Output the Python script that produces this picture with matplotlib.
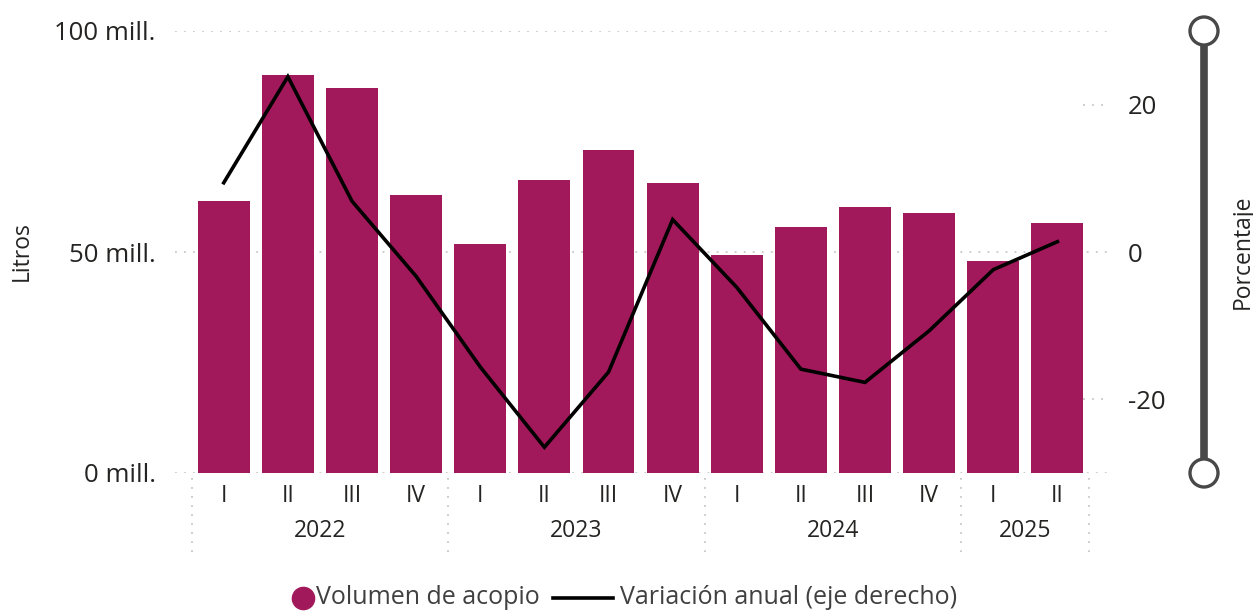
import numpy as np
import matplotlib
matplotlib.use("Agg")
import matplotlib.pyplot as plt
import matplotlib.transforms as mtransforms
from matplotlib.lines import Line2D
from matplotlib.patches import Circle

plt.rcParams['font.family'] = ['Open Sans', 'DejaVu Sans']

# data (millions of litres, annual % change)
quarters = ["I", "II", "III", "IV", "I", "II", "III", "IV", "I", "II", "III", "IV", "I", "II"]
years = ["2022", "2023", "2024", "2025"]
year_sizes = [4, 4, 4, 2]
volumen = [61.5, 90.0, 87.1, 62.9, 51.8, 66.3, 73.1, 65.6, 49.3, 55.7, 60.2, 58.8, 48.0, 56.6]
variacion = [9.4, 23.8, 6.9, -3.3, -15.6, -26.5, -16.3, 4.4, -4.8, -15.9, -17.7, -10.7, -2.4, 1.4]

W, H = 1253, 612
bar_color = "#A2195B"
grid_color = "#C8C8C8"
dots = (0, (1, 4))
txt = "#252423"

fig = plt.figure(figsize=(W / 100, H / 100), dpi=100)
ax = fig.add_axes([175 / W, (H - 473) / H, (1110 - 175) / W, (473 - 31) / H])
ax2 = ax.twinx()

x = np.arange(len(volumen))
ax.bar(x, volumen, width=0.81, color=bar_color, zorder=2)
ax2.plot(x, variacion, color="black", lw=2.6, solid_joinstyle="miter", zorder=3)

ax.set_xlim(-0.76, 13.82)
ax.set_ylim(0, 100)
ax2.set_ylim(-30, 30)

for s in list(ax.spines.values()) + list(ax2.spines.values()):
    s.set_visible(False)

ax.set_yticks([0, 50, 100])
ax.set_yticklabels(["0 mill.", "50 mill.", "100 mill."])
ax.tick_params(axis="y", length=0, pad=14, labelsize=18.5, labelcolor=txt)
for yv in [0, 50, 100]:
    ax.axhline(yv, color=grid_color, lw=1.3, ls=dots, zorder=0)

ax2.set_yticks([-20, 0, 20])
ax2.set_yticklabels(["-20", "0", "20"])
ax2.tick_params(axis="y", length=0, pad=13, labelsize=18.5, labelcolor=txt)
for yv in [-20, 20]:
    ax2.plot([13.4, 13.82], [yv, yv], color=grid_color, lw=1.3, ls=dots, zorder=0)

ax.set_xticks(x)
ax.set_xticklabels(quarters)
ax.tick_params(axis="x", length=0, pad=8, labelsize=16.5, labelcolor=txt)

# year labels and group separators under the axis
trans = mtransforms.blended_transform_factory(ax.transData, fig.transFigure)
start = 0
bounds = [-0.5]
for yr, n in zip(years, year_sizes):
    ax.text(start + (n - 1) / 2, 1 - 531 / H, yr, transform=trans, ha="center", va="center",
            fontsize=16.5, color=txt)
    start += n
    bounds.append(start - 0.5)
for b in bounds:
    ax.plot([b, b], [1 - 478 / H, 1 - 553 / H], transform=trans, color=grid_color,
            lw=1.3, ls=dots, clip_on=False)

# axis titles
fig.text(22 / W, 1 - 251 / H, "Litros", rotation=90, ha="center", va="center",
         fontsize=16.5, color=txt)
fig.text(1243 / W, 1 - 252 / H, "Porcentaje", rotation=90, ha="center", va="center",
         fontsize=16.5, color=txt)

# zoom slider on the right
fig.add_artist(Line2D([1204 / W, 1204 / W], [1 - 31 / H, 1 - 473 / H], color="#484848",
                      lw=5.5, transform=fig.transFigure))
for cy in [31, 473]:
    fig.add_artist(Circle((1204, H - cy), 14, transform=None, facecolor="white",
                          edgecolor="#484848", lw=2.4, zorder=5))

# legend
ly = 1 - 598 / H
fig.add_artist(Line2D([303 / W], [ly], marker="o", markersize=16, color=bar_color,
                      transform=fig.transFigure))
fig.text(316 / W, ly, "Volumen de acopio", ha="left", va="center", fontsize=18, color="#404040")
fig.add_artist(Line2D([553 / W, 613 / W], [ly, ly], color="black", lw=2.6,
                      transform=fig.transFigure))
fig.text(620 / W, ly, "Variación anual (eje derecho)", ha="left", va="center",
         fontsize=18, color="#404040")

fig.savefig("out.png", dpi=100)
